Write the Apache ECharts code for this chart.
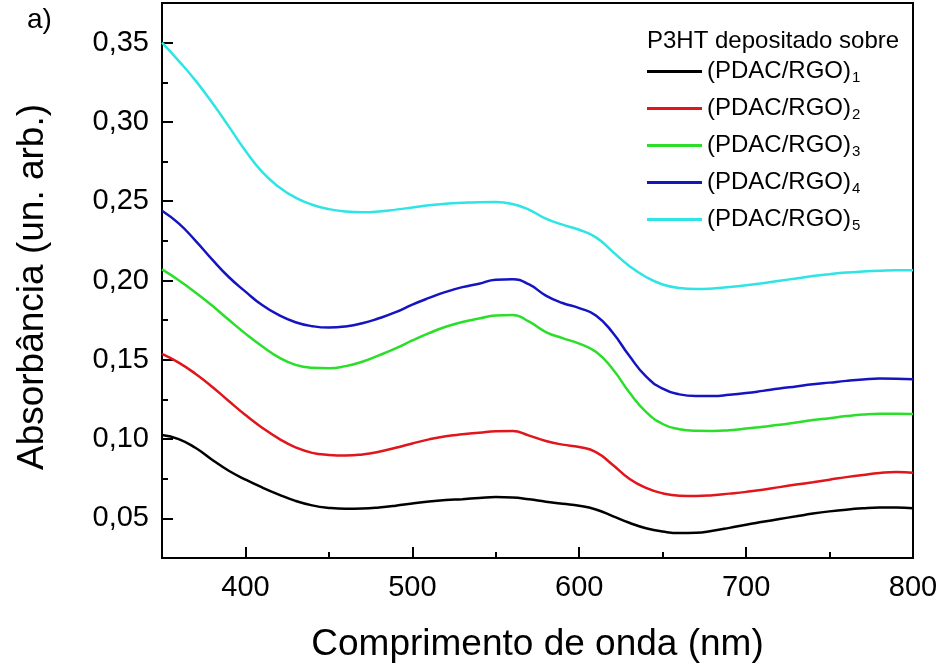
<!DOCTYPE html>
<html>
<head>
<meta charset="utf-8">
<title>Absorbância P3HT</title>
<script src="https://cdn.jsdelivr.net/npm/echarts@6/dist/echarts.min.js"></script>
<style>
  html, body { margin: 0; padding: 0; background: #ffffff; }
  #chart { width: 945px; height: 667px; }
</style>
</head>
<body>
<div id="chart"></div>
<script>
// Wavelength grid (nm)
const wavelength = [
  350, 360, 370, 380, 390, 400, 410, 420, 430, 440,
  450, 460, 470, 480, 490, 500, 510, 520, 530, 540,
  550, 560, 570, 580, 590, 600, 610, 620, 630, 640,
  650, 660, 670, 680, 690, 700, 710, 720, 730, 740,
  750, 760, 770, 780, 790, 800
];

// Absorbance of P3HT on (PDAC/RGO)n, n = 1..5
const absRGO1 = [
  0.1026, 0.1000, 0.0945, 0.0870, 0.0800, 0.0745, 0.0695, 0.0650, 0.0610, 0.0582,
  0.0566, 0.0560, 0.0562, 0.0569, 0.0580, 0.0594, 0.0606, 0.0615, 0.0621, 0.0628,
  0.0634, 0.0632, 0.0620, 0.0605, 0.0592, 0.0580, 0.0556, 0.0514, 0.0472, 0.0438,
  0.0417, 0.0407, 0.0409, 0.0422, 0.0440, 0.0460, 0.0478, 0.0496, 0.0513, 0.0530,
  0.0544, 0.0555, 0.0563, 0.0568, 0.0569, 0.0564
];
const absRGO2 = [
  0.1537, 0.1482, 0.1412, 0.1330, 0.1240, 0.1152, 0.1072, 0.1003, 0.0948, 0.0913,
  0.0900, 0.0896, 0.0903, 0.0920, 0.0945, 0.0972, 0.0998, 0.1018, 0.1030, 0.1040,
  0.1050, 0.1051, 0.1022, 0.0988, 0.0965, 0.0950, 0.0918, 0.0838, 0.0750, 0.0692,
  0.0658, 0.0643, 0.0641, 0.0646, 0.0656, 0.0667, 0.0680, 0.0697, 0.0713, 0.0728,
  0.0744, 0.0760, 0.0774, 0.0786, 0.0792, 0.0788
];
const absRGO3 = [
  0.2070, 0.2002, 0.1925, 0.1842, 0.1752, 0.1665, 0.1585, 0.1515, 0.1468, 0.1450,
  0.1447, 0.1460, 0.1488, 0.1528, 0.1572, 0.1622, 0.1668, 0.1708, 0.1738, 0.1760,
  0.1780, 0.1783, 0.1740, 0.1675, 0.1637, 0.1602, 0.1550, 0.1442, 0.1295, 0.1172,
  0.1095, 0.1062, 0.1052, 0.1051, 0.1056, 0.1066, 0.1078, 0.1090, 0.1105, 0.1120,
  0.1132, 0.1145, 0.1155, 0.1160, 0.1160, 0.1158
];
const absRGO4 = [
  0.2440, 0.2360, 0.2252, 0.2133, 0.2022, 0.1930, 0.1845, 0.1782, 0.1737, 0.1712,
  0.1703, 0.1710, 0.1730, 0.1762, 0.1800, 0.1848, 0.1890, 0.1928, 0.1958, 0.1980,
  0.2005, 0.2008, 0.1975, 0.1905, 0.1858, 0.1826, 0.1780, 0.1672, 0.1525, 0.1395,
  0.1318, 0.1282, 0.1271, 0.1271, 0.1279, 0.1290, 0.1304, 0.1319, 0.1332, 0.1345,
  0.1356, 0.1367, 0.1376, 0.1382, 0.1381, 0.1377
];
const absRGO5 = [
  0.3500, 0.3385, 0.3262, 0.3122, 0.2972, 0.2818, 0.2685, 0.2590, 0.2522, 0.2478,
  0.2450, 0.2435, 0.2430, 0.2435, 0.2447, 0.2460, 0.2474, 0.2484, 0.2490, 0.2494,
  0.2495, 0.2482, 0.2446, 0.2390, 0.2352, 0.2320, 0.2272, 0.2182, 0.2092, 0.2022,
  0.1975, 0.1952, 0.1946, 0.1950, 0.1959, 0.1970, 0.1983, 0.1998, 0.2013, 0.2028,
  0.2040, 0.2050, 0.2057, 0.2062, 0.2065, 0.2065
];

const seriesNames = ['(PDAC/RGO)1', '(PDAC/RGO)2', '(PDAC/RGO)3', '(PDAC/RGO)4', '(PDAC/RGO)5'];
const seriesValues = [absRGO1, absRGO2, absRGO3, absRGO4, absRGO5];
const seriesColors = ['#000000', '#e0161c', '#2ade2a', '#1414c0', '#2ee4e4'];

// Axis ticks
const xMajorTicks = [400, 500, 600, 700, 800];
const xMinorTicks = [450, 550, 650, 750];
const yMajorTicks = [0.05, 0.10, 0.15, 0.20, 0.25, 0.30, 0.35];
const yMinorTicks = [0.075, 0.125, 0.175, 0.225, 0.275, 0.325];

const FONT = "'Liberation Sans', Arial, sans-serif";
const X_MIN = 350, X_MAX = 800, Y_MIN = 0.025, Y_MAX = 0.375;

const chart = echarts.init(document.getElementById('chart'), null, { renderer: 'canvas' });

const series = seriesNames.map((name, k) => ({
  name: name,
  type: 'line',
  xAxisIndex: 0,
  yAxisIndex: 0,
  data: wavelength.map((w, i) => [w, seriesValues[k][i]]),
  showSymbol: false,
  symbol: 'none',
  smooth: 0.5,
  lineStyle: { color: seriesColors[k], width: 2.5 },
  itemStyle: { color: seriesColors[k] },
  emphasis: { disabled: true },
  animation: false
}));

const option = {
  backgroundColor: '#ffffff',
  animation: false,
  textStyle: { fontFamily: FONT, color: '#000' },
  title: [
    {
      text: 'a)',
      left: 27, top: 6,
      padding: 0,
      textStyle: { fontFamily: FONT, fontSize: 28, fontWeight: 'normal', color: '#000' }
    },
    {
      text: 'P3HT depositado sobre',
      left: 647, top: 29,
      padding: 0,
      textStyle: { fontFamily: FONT, fontSize: 24, fontWeight: 'normal', color: '#000' }
    }
  ],
  legend: {
    orient: 'vertical',
    left: 647,
    top: 57,
    padding: 0,
    icon: 'rect',
    itemWidth: 55,
    itemHeight: 3,
    itemGap: 9,
    selectedMode: false,
    data: seriesNames,
    formatter: (name) => name.replace(/(\d)$/, '{s|$1}'),
    textStyle: {
      fontFamily: FONT,
      fontSize: 24,
      color: '#000',
      lineHeight: 27,
      rich: {
        s: { fontFamily: FONT, fontSize: 15, lineHeight: 15, padding: [13, 0, 0, 1], verticalAlign: 'bottom', color: '#000' }
      }
    }
  },
  grid: {
    left: 162, right: 32, top: 3, bottom: 109,
    outerBoundsMode: 'none',
    containLabel: false,
    show: true,
    borderColor: '#000',
    borderWidth: 2,
    backgroundColor: 'transparent'
  },
  xAxis: [
    {
      type: 'value',
      min: X_MIN, max: X_MAX,
      position: 'bottom',
      name: 'Comprimento de onda (nm)',
      nameLocation: 'middle',
      nameGap: 68,
      nameTextStyle: { fontFamily: FONT, fontSize: 37, color: '#000' },
      axisLine: { show: true, onZero: false, lineStyle: { color: '#000', width: 2 } },
      axisTick: { show: true, inside: true, length: 11, customValues: xMajorTicks, lineStyle: { color: '#000', width: 2 } },
      axisLabel: { show: true, customValues: xMajorTicks, margin: 15, fontFamily: FONT, fontSize: 29, color: '#000' },
      splitLine: { show: false }
    },
    {
      type: 'value',
      min: X_MIN, max: X_MAX,
      position: 'bottom',
      axisLine: { show: false, onZero: false },
      axisTick: { show: true, inside: true, length: 6, customValues: xMinorTicks, lineStyle: { color: '#000', width: 2 } },
      axisLabel: { show: false },
      splitLine: { show: false }
    }
  ],
  yAxis: [
    {
      type: 'value',
      min: Y_MIN, max: Y_MAX,
      position: 'left',
      name: 'Absorbância (un. arb.)',
      nameLocation: 'middle',
      nameGap: 111,
      nameRotate: 90,
      nameTextStyle: { fontFamily: FONT, fontSize: 37, color: '#000', padding: [0, 13, 0, 0] },
      axisLine: { show: true, onZero: false, lineStyle: { color: '#000', width: 2 } },
      axisTick: { show: true, inside: true, length: 11, customValues: yMajorTicks, lineStyle: { color: '#000', width: 2 } },
      axisLabel: {
        show: true,
        customValues: yMajorTicks,
        margin: 13,
        fontFamily: FONT, fontSize: 29, color: '#000',
        formatter: (v) => v.toFixed(2).replace('.', ',')
      },
      splitLine: { show: false }
    },
    {
      type: 'value',
      min: Y_MIN, max: Y_MAX,
      position: 'left',
      axisLine: { show: false, onZero: false },
      axisTick: { show: true, inside: true, length: 6, customValues: yMinorTicks, lineStyle: { color: '#000', width: 2 } },
      axisLabel: { show: false },
      splitLine: { show: false }
    }
  ],
  series: series
};

chart.setOption(option);
</script>
</body>
</html>
